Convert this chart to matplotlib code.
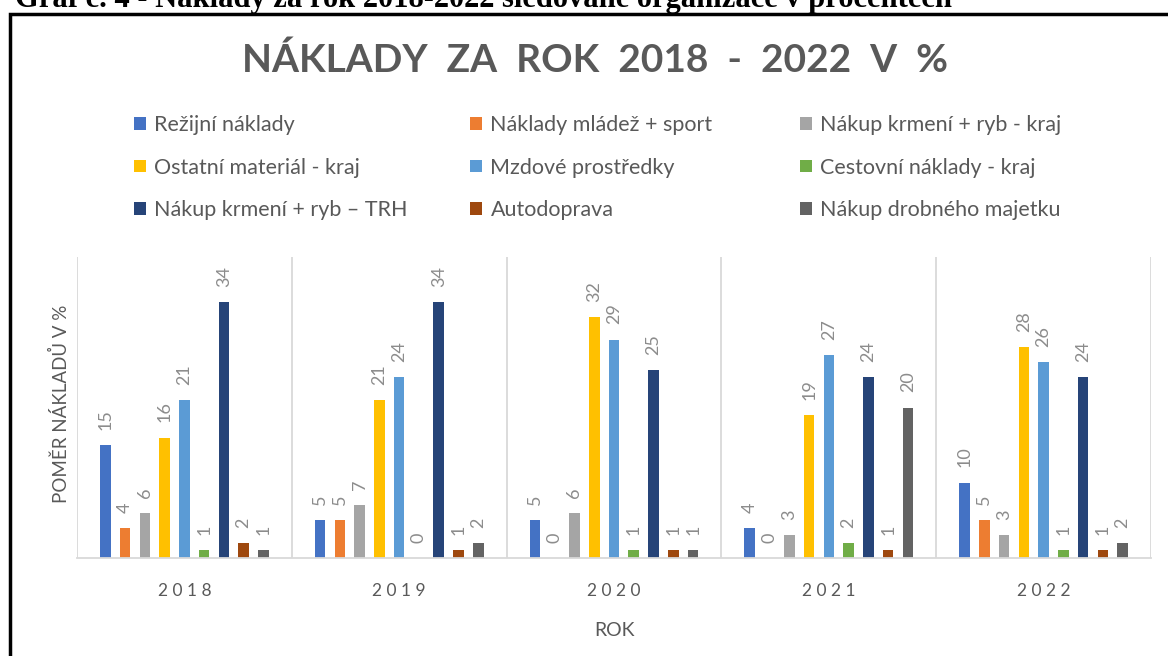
import matplotlib
matplotlib.use("Agg")
import matplotlib.pyplot as plt
import matplotlib.patches as mpatches
import numpy as np

years = ["2018", "2019", "2020", "2021", "2022"]
series = ["Režijní náklady", "Náklady mládež + sport", "Nákup krmení + ryb - kraj",
          "Ostatní materiál - kraj", "Mzdové prostředky", "Cestovní náklady - kraj",
          "Nákup krmení + ryb – TRH", "Autodoprava", "Nákup drobného majetku"]
rezijni = [15, 5, 5, 4, 10]
mladez = [4, 5, 0, 0, 5]
krmeni_kraj = [6, 7, 6, 3, 3]
material = [16, 21, 32, 19, 28]
mzdy = [21, 24, 29, 27, 26]
cestovni = [1, 0, 1, 2, 1]
krmeni_trh = [34, 34, 25, 24, 24]
autodoprava = [2, 1, 1, 1, 1]
majetek = [1, 2, 1, 20, 2]
values = [rezijni, mladez, krmeni_kraj, material, mzdy, cestovni, krmeni_trh, autodoprava, majetek]
colors = ["#4472C4", "#ED7D31", "#A5A5A5", "#FFC000", "#5B9BD5",
          "#70AD47", "#264478", "#9E480E", "#636363"]

plt.rcParams['font.family'] = ['Lato', 'DejaVu Sans']

W, H = 1168, 656
fig = plt.figure(figsize=(W / 100, H / 100), dpi=100)
ax = fig.add_axes([77 / W, 1 - 558 / H, (1151 - 77) / W, (558 - 257) / H])

x = np.arange(len(years))
step = 0.092
width = 0.049
bars = []
for i, (vals, c) in enumerate(zip(values, colors)):
    pos = x + (i - 4) * step
    b = ax.bar(pos, vals, width, color=c, label=series[i], zorder=2)
    bars.append(b)
    for xp, v in zip(pos, vals):
        ax.annotate(str(v), (xp, v), xytext=(0, 11), textcoords='offset points',
                    rotation=90, ha='center', va='bottom', color='#8C8C8C', fontsize=13)

ax.set_xlim(-0.5, 4.5)
ax.set_ylim(0, 40)
ax.set_yticks([])
ax.set_xticks(x)
ax.set_xticklabels([" ".join(y) for y in years], fontsize=12.5, color='#595959')
ax.tick_params(axis='x', length=0, pad=18)
for b in np.arange(-0.5, 5, 1):
    ax.axvline(b, color='#D9D9D9', lw=1.3, zorder=1)
for s in ['top', 'right', 'left']:
    ax.spines[s].set_visible(False)
ax.spines['bottom'].set_color('#D9D9D9')
ax.spines['bottom'].set_linewidth(1.3)

fig.text(614 / W, 1 - 631 / H, "ROK", ha='center', va='center', fontsize=14, color='#595959')
fig.text(60 / W, 1 - 404 / H, "POMĚR NÁKLADŮ V %", ha='center', va='center',
         rotation=90, fontsize=13.5, color='#595959')

fig.text(595 / W, 1 - 60 / H, "NÁKLADY  ZA  ROK  2018  -  2022  V  %", ha='center', va='center',
         fontsize=28, fontweight='bold', color='#595959')

# legend in three columns, read row by row
order = [[0, 3, 6], [1, 4, 7], [2, 5, 8]]
col_x = [134, 470, 800]
for cx, idx in zip(col_x, order):
    leg = fig.legend([bars[k] for k in idx], [series[k] for k in idx],
                     loc='upper left', bbox_to_anchor=(cx / W, 1 - 115 / H),
                     frameon=False, fontsize=15.5, handlelength=0.55, handleheight=0.55,
                     handletextpad=0.4, labelspacing=1.05, borderaxespad=0, borderpad=0,
                     labelcolor='#595959')

# caption cut at the top and the frame around the chart (as in the reference)
fig.text(15 / W, 1 - 7 / H, "Graf č. 4 - Náklady za rok 2018-2022 sledované organizace v procentech",
         ha='left', va='baseline', fontsize=22, fontweight='bold', family='Liberation Serif')
fig.patches.append(mpatches.Rectangle((10 / W, -0.2), 1.2, 1.2 - 14 / H, transform=fig.transFigure,
                                      fill=False, edgecolor='black', lw=2.5))

fig.savefig("out.png", dpi=100)
